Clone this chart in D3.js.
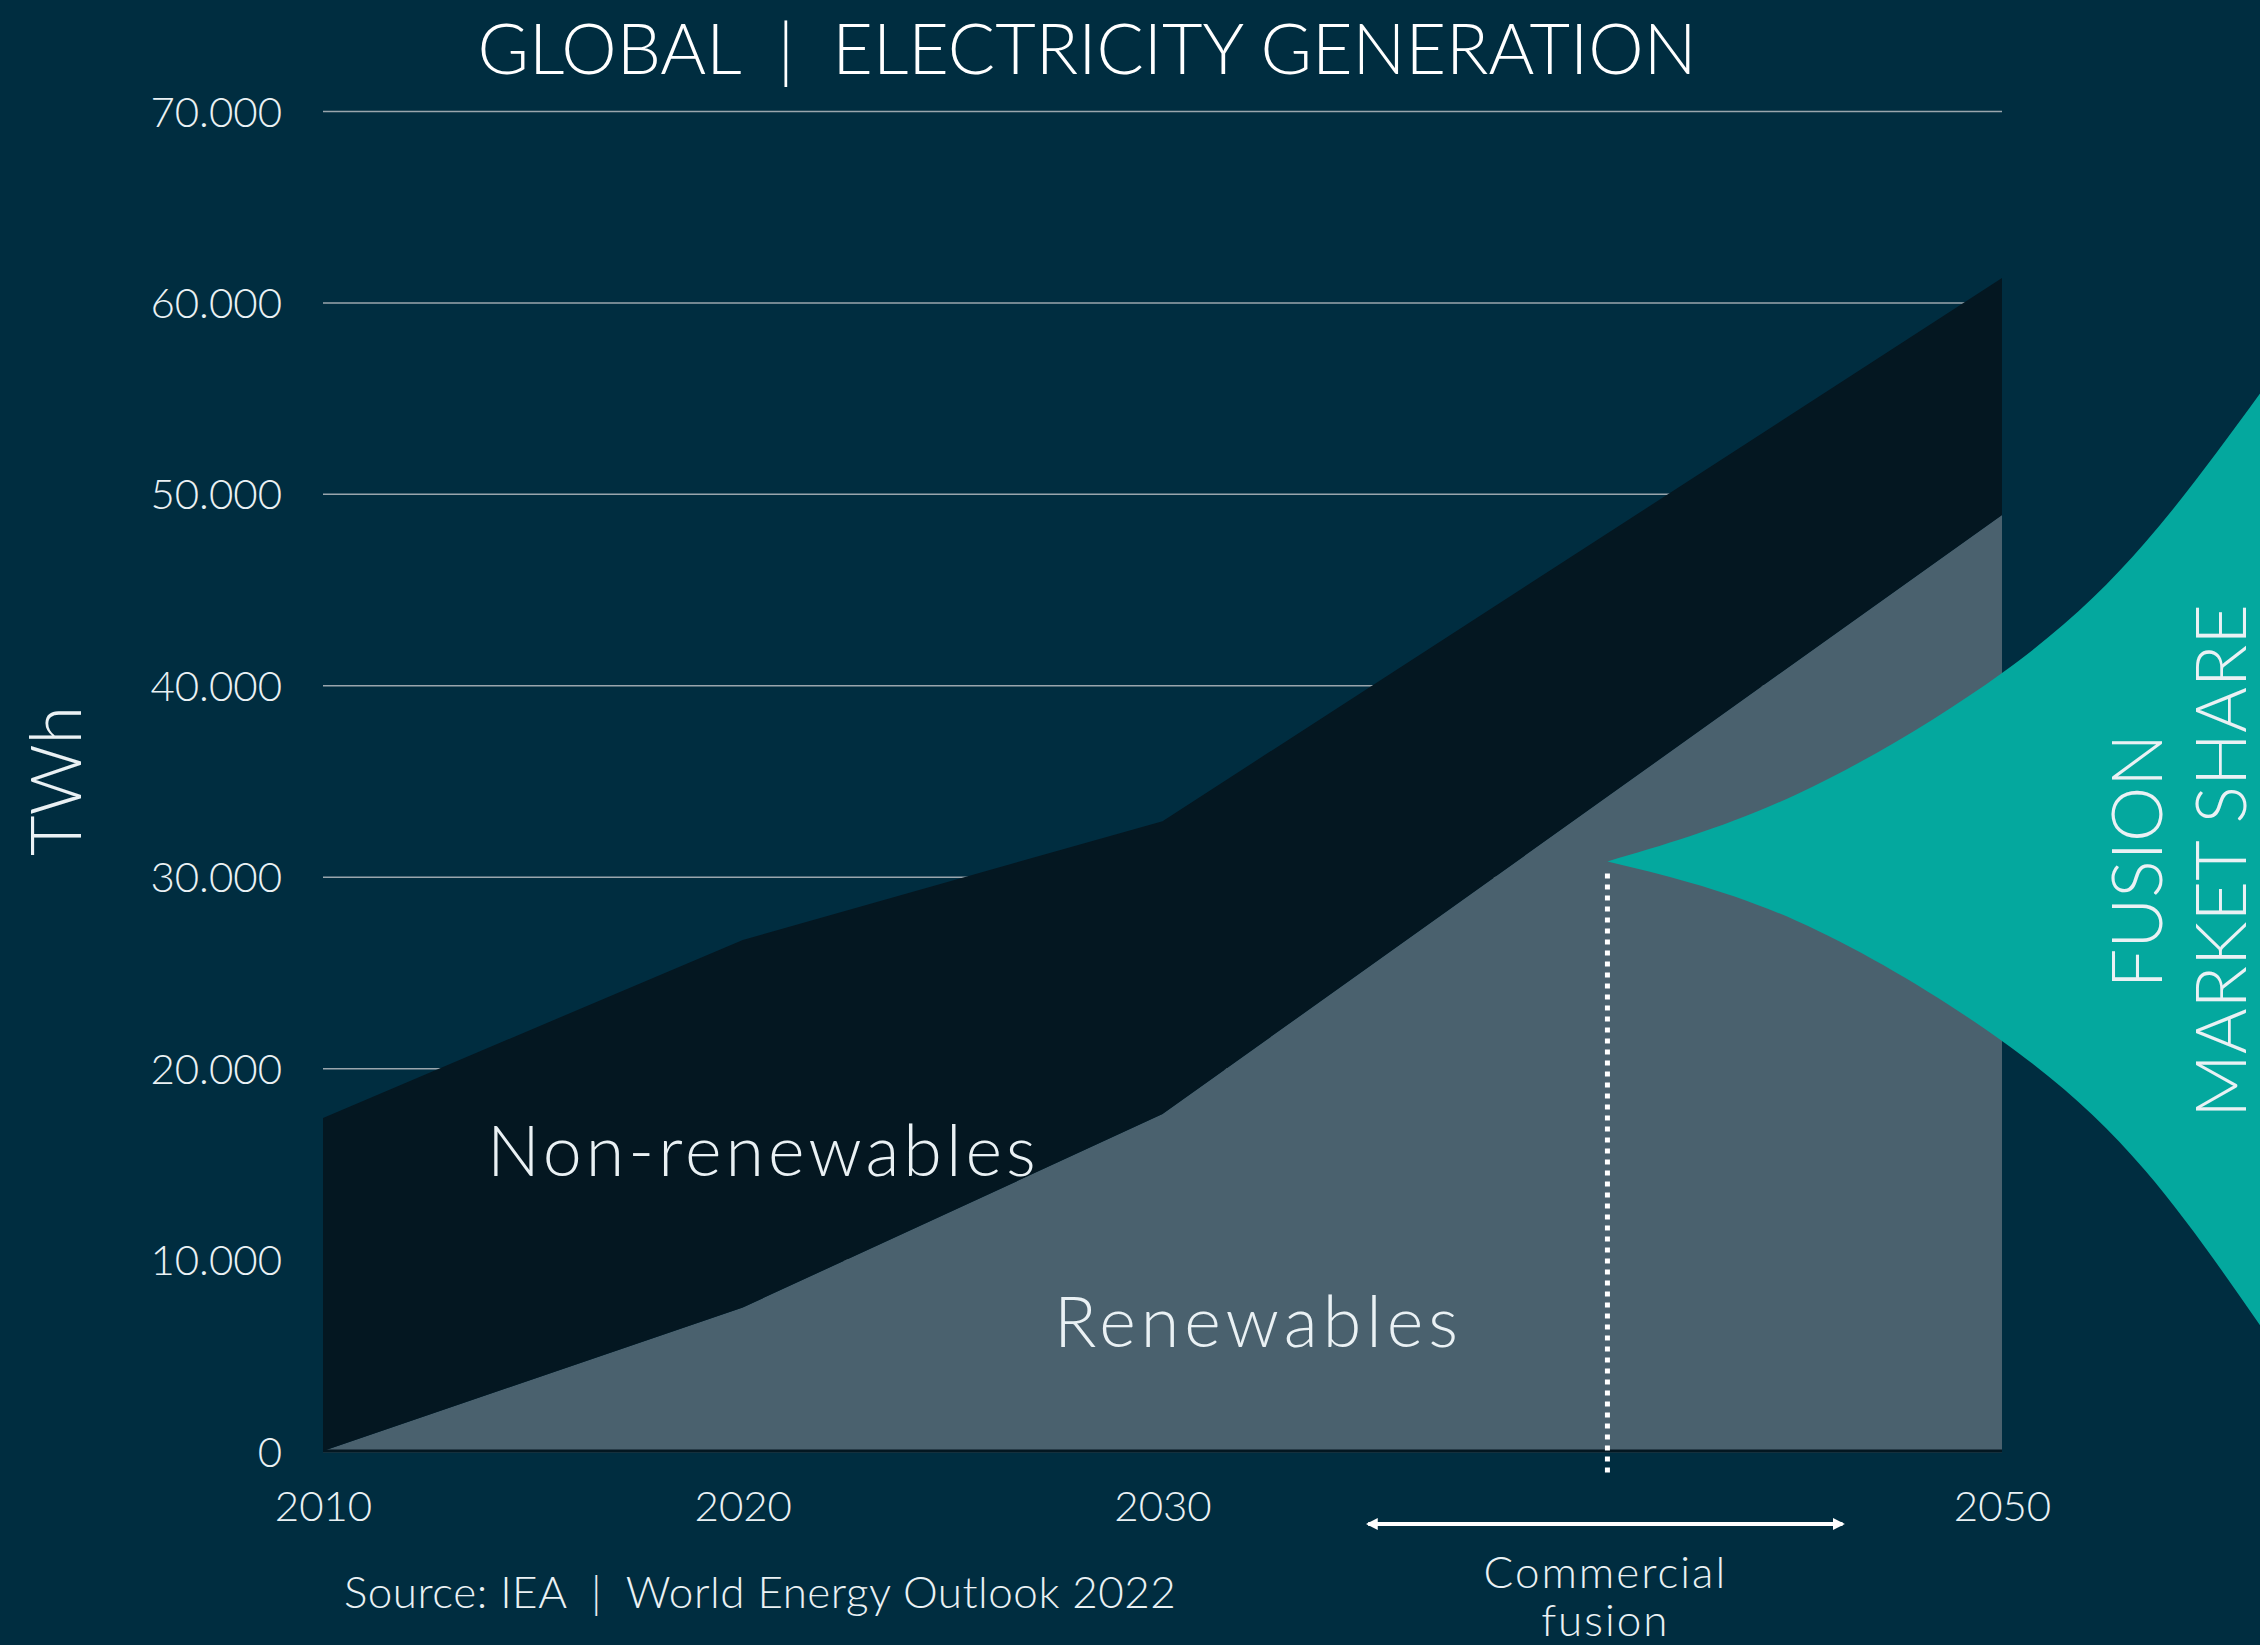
<!DOCTYPE html>
<html lang="en">
<head>
    <meta charset="UTF-8">
    <title>Global | Electricity Generation</title>
    <script src="https://d3js.org/d3.v7.min.js"></script>
    <style>
        body { margin: 0; background: #002d40; }
        svg { display: block; font-family: "Lato", "Open Sans", sans-serif; font-weight: 300; }
        .txt { fill: #eaf1f4; white-space: pre; }
        .grid line { stroke: #9aa6ad; stroke-width: 1.5; }
        .grid .domain { display: none; }
        .grid text, .xaxis text { fill: #eaf1f4; font-size: 42px; font-family: "Lato", sans-serif; }
        .xaxis .domain, .xaxis line { display: none; }
    </style>
</head>
<body>
    <svg width="2260" height="1645"></svg>

    <script>
        // values (TWh)
        const years = [2010, 2020, 2030, 2050];
        const renewables = [0, 7500, 17600, 48900];
        const nonRenewables = [17400, 19200, 15300, 12370];
        const yTicks = [0, 10000, 20000, 30000, 40000, 50000, 60000, 70000];
        const xTicks = [2010, 2020, 2030, 2050];

        // fusion market share wedge (opens out from the commercial fusion start)
        const fusionYears = [2040.6, 2045.1, 2050, 2053.4, 2056.2];
        const fusionUpper = [30800, 34300, 40640, 47430, 55400];
        const fusionLower = [30800, 27700, 21420, 14680, 6400];

        // commercial fusion window (arrow under the axis)
        const fusionWindow = [2034.9, 2046.2];

        const svg = d3.select("svg"),
            margin = { top: 111, right: 258, bottom: 194, left: 323 },
            width = +svg.attr("width") - margin.left - margin.right,
            height = +svg.attr("height") - margin.top - margin.bottom;

        svg.append("rect").attr("width", 2260).attr("height", 1645).attr("fill", "#002d40");

        const g = svg.append("g").attr("transform", `translate(${margin.left},${margin.top})`);

        const x = d3.scaleLinear().domain([2010, 2050]).range([0, width]);
        const y = d3.scaleLinear().domain([0, 70000]).range([height, 0]);

        const locale = d3.formatLocale({ decimal: ",", thousands: ".", grouping: [3], currency: ["", ""] });
        const fmt = locale.format(",d");

        // gridlines + y labels
        g.append("g")
            .attr("class", "grid")
            .call(d3.axisLeft(y).tickValues(yTicks).tickSize(-width).tickPadding(41).tickFormat(fmt))
            .call(s => s.selectAll("text").attr("dy", "0.36em"));

        // stacked areas
        const table = years.map((yr, i) => ({ year: yr, renewables: renewables[i], nonRenewables: nonRenewables[i] }));
        const series = d3.stack().keys(["renewables", "nonRenewables"])(table);
        const colors = { renewables: "#4a616e", nonRenewables: "#041721" };

        const area = d3.area()
            .x(d => x(d.data.year))
            .y0(d => y(d[0]))
            .y1(d => y(d[1]));

        g.selectAll(".layer")
            .data(series)
            .join("path")
            .attr("class", "layer")
            .attr("fill", d => colors[d.key])
            .attr("d", area);

        // baseline
        g.append("line")
            .attr("x1", 0).attr("x2", width)
            .attr("y1", y(0)).attr("y2", y(0))
            .attr("stroke", "#041721").attr("stroke-width", 3);

        // fusion wedge
        const wedge = fusionYears.map((yr, i) => ({ year: yr, hi: fusionUpper[i], lo: fusionLower[i] }));
        g.append("path")
            .datum(wedge)
            .attr("fill", "#04a89e")
            .attr("d", d3.area()
                .x(d => x(d.year))
                .y0(d => y(d.lo))
                .y1(d => y(d.hi))
                .curve(d3.curveNatural));

        // dotted marker for commercial fusion start
        g.append("line")
            .attr("x1", x(fusionYears[0])).attr("x2", x(fusionYears[0]))
            .attr("y1", y(fusionUpper[0]) + 12).attr("y2", y(0) + 24)
            .attr("stroke", "#ffffff").attr("stroke-width", 5)
            .attr("stroke-dasharray", "5,6");

        // x axis labels
        g.append("g")
            .attr("class", "xaxis")
            .attr("transform", `translate(0,${height})`)
            .call(d3.axisBottom(x).tickValues(xTicks).tickSize(0).tickPadding(40).tickFormat(d3.format("d")));

        // arrow
        const defs = svg.append("defs");
        defs.append("marker")
            .attr("id", "head")
            .attr("viewBox", "0 0 10 10")
            .attr("refX", 8).attr("refY", 5)
            .attr("markerWidth", 3).attr("markerHeight", 4)
            .attr("markerUnits", "strokeWidth")
            .attr("orient", "auto-start-reverse")
            .append("path").attr("d", "M0,0 L10,5 L0,10 z").attr("fill", "#ffffff");

        g.append("line")
            .attr("x1", x(fusionWindow[0])).attr("x2", x(fusionWindow[1]))
            .attr("y1", height + 73).attr("y2", height + 73)
            .attr("stroke", "#ffffff").attr("stroke-width", 4)
            .attr("marker-start", "url(#head)")
            .attr("marker-end", "url(#head)");

        const midFusion = x((fusionWindow[0] + fusionWindow[1]) / 2);
        g.append("text").attr("class", "txt")
            .attr("x", midFusion).attr("y", height + 137)
            .attr("text-anchor", "middle").attr("font-size", 44)
            .attr("letter-spacing", 2)
            .text("Commercial");
        g.append("text").attr("class", "txt")
            .attr("x", midFusion).attr("y", height + 185)
            .attr("text-anchor", "middle").attr("font-size", 44)
            .attr("letter-spacing", 2)
            .text("fusion");

        // area labels
        g.append("text").attr("class", "txt")
            .attr("x", 164).attr("y", 1065)
            .attr("font-size", 70).attr("letter-spacing", 4)
            .text("Non-renewables");
        g.append("text").attr("class", "txt")
            .attr("x", 731).attr("y", 1236)
            .attr("font-size", 70).attr("letter-spacing", 5)
            .text("Renewables");

        // title
        svg.append("text")
            .attr("x", 1087).attr("y", 74)
            .attr("text-anchor", "middle")
            .attr("font-size", 70).attr("fill", "#ffffff")
            .style("white-space", "pre")
            .text("GLOBAL  |  ELECTRICITY GENERATION");

        // y axis title
        svg.append("text").attr("class", "txt")
            .attr("transform", "translate(81,781) rotate(-90)")
            .attr("text-anchor", "middle").attr("font-size", 70)
            .text("TWh");

        // fusion market share label
        svg.append("text").attr("class", "txt")
            .attr("transform", "translate(2162,861) rotate(-90)")
            .attr("text-anchor", "middle").attr("font-size", 70)
            .text("FUSION");
        svg.append("text").attr("class", "txt")
            .attr("transform", "translate(2246,861) rotate(-90)")
            .attr("text-anchor", "middle").attr("font-size", 70)
            .text("MARKET SHARE");

        // source
        svg.append("text").attr("class", "txt")
            .attr("x", 344).attr("y", 1608)
            .attr("font-size", 44).attr("letter-spacing", 0.5)
            .text("Source: IEA  |  World Energy Outlook 2022");
    </script>
</body>
</html>
